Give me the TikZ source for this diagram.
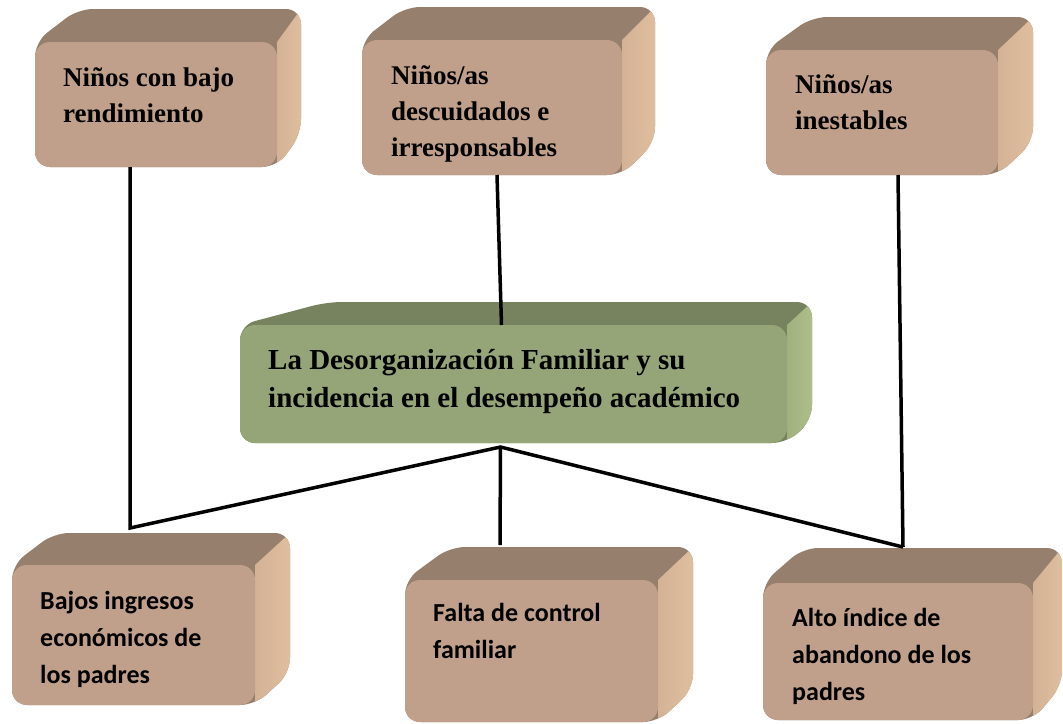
\documentclass[tikz,border=0pt]{standalone}
\usepackage{fontspec}
\setmainfont{Liberation Serif}
\setsansfont{Carlito}
\usetikzlibrary{calc}
\usetikzlibrary{positioning}
\usetikzlibrary{backgrounds}

\definecolor{cafefrente}{HTML}{C0A08A}
\definecolor{cafetapa}{HTML}{967F6C}
\definecolor{cafelado}{HTML}{D4B296}
\definecolor{cafeclaro}{HTML}{E0BF9F}
\definecolor{verdefrente}{HTML}{95A578}
\definecolor{verdetapa}{HTML}{76835E}
\definecolor{verdelado}{HTML}{A0B17F}
\definecolor{verdeclaro}{HTML}{AFC08D}

% back of a box: node, left depth, right depth, height, top, side, light side
\newcommand\fondo[7]{%
\begin{scope}[on background layer]
\begin{scope}
\path[clip, rounded corners=15pt] (#1.north west) -- ++(#2,#4) -- ($(#1.north east)+(#3,#4)$) -- ($(#1.south east)+(#3,#4)$) -- (#1.south east) -- (#1.south west) -- cycle;
\fill[#5] ($(#1.south west)+(-5,-5)$) rectangle ($(#1.north east)+(#3+5,#4+5)$);
\shade[left color=#6, right color=#7] (#1.north east) -- ++(#3,#4) -- ++(3,0) -- ($(#1.south east)+(#3+3,-3)$) -- ($(#1.south east)+(0,-3)$) -- cycle;
\end{scope}
\end{scope}}

\tikzset{
  frente/.style={fill=#1, rounded corners=15pt, inner sep=0pt, outer sep=0pt, anchor=north west},
  txtserif/.style={font=\bfseries\fontsize{27}{36}\selectfont, align=left, inner sep=0pt},
  txtcentro/.style={font=\bfseries\fontsize{29}{38}\selectfont, align=left, inner sep=0pt},
  txtsans/.style={font=\sffamily\bfseries\fontsize{26}{37}\selectfont, align=left, inner sep=0pt},
  linea/.style={black, line width=3.5pt}
}

\begin{document}
\begin{tikzpicture}[x=1pt,y=1pt]

\useasboundingbox (0,0) rectangle (1063,-723);

% top row
\node[frente=cafefrente, minimum width=242pt, minimum height=125pt] (b1) at (35,-42) {};
\node[txtserif, below right=25pt and 28pt of b1.north west] (t1) {Niños con bajo\\rendimiento};
\fondo{b1}{43}{24}{33}{cafetapa}{cafelado}{cafeclaro}

\node[frente=cafefrente, minimum width=260pt, minimum height=135pt] (b2) at (362,-40) {};
\node[txtserif, below right=25pt and 29pt of b2.north west] (t2) {Niños/as\\descuidados e\\irresponsables};
\fondo{b2}{43}{33}{33}{cafetapa}{cafelado}{cafeclaro}

\node[frente=cafefrente, minimum width=232pt, minimum height=125pt] (b3) at (766,-50) {};
\node[txtserif, below right=24pt and 29pt of b3.north west] (t3) {Niños/as\\inestables};
\fondo{b3}{46}{35}{33}{cafetapa}{cafelado}{cafeclaro}

% centre
\node[frente=verdefrente, minimum width=547pt, minimum height=118pt] (g) at (240,-325) {};
\node[txtcentro, below right=24pt and 28pt of g.north west] (tg) {La Desorganización Familiar y su\\incidencia en el desempeño académico};
\fondo{g}{87}{25}{23}{verdetapa}{verdelado}{verdeclaro}

% bottom row
\node[frente=cafefrente, minimum width=243pt, minimum height=140pt] (c1) at (12,-565) {};
\node[txtsans, below right=26pt and 28pt of c1.north west] (s1) {Bajos ingresos\\económicos de\\los padres};
\fondo{c1}{42}{35}{32}{cafetapa}{cafelado}{cafeclaro}

\node[frente=cafefrente, minimum width=253pt, minimum height=142pt] (c2) at (405,-580) {};
\node[txtsans, below right=23pt and 28pt of c2.north west] (s2) {Falta de control\\familiar};
\fondo{c2}{45}{35}{33}{cafetapa}{cafelado}{cafeclaro}

\node[frente=cafefrente, minimum width=270pt, minimum height=137pt] (c3) at (763,-583) {};
\node[txtsans, below right=25pt and 29pt of c3.north west] (s3) {Alto índice de\\abandono de los\\padres};
\fondo{c3}{40}{29}{35}{cafetapa}{cafelado}{cafeclaro}

% connectors
\coordinate (uizq) at ([xshift=118pt,yshift=37pt]c1.north west);
\coordinate (uder) at ([xshift=140pt,yshift=36pt]c3.north west);
\coordinate (ucen) at ([xshift=-13pt,yshift=-4pt]g.south);
\coordinate (c2arr) at ([xshift=95pt,yshift=35pt]c2.north west);

\draw[linea] (b1.south -| uizq) -- (uizq) -- (ucen) -- (uder);
\draw[linea] ([xshift=16pt]b3.south) -- (uder);
\draw[linea] ([xshift=5pt]b2.south) -- ([xshift=-12pt]g.north);
\draw[linea] (ucen) -- (c2arr);

\end{tikzpicture}
\end{document}
